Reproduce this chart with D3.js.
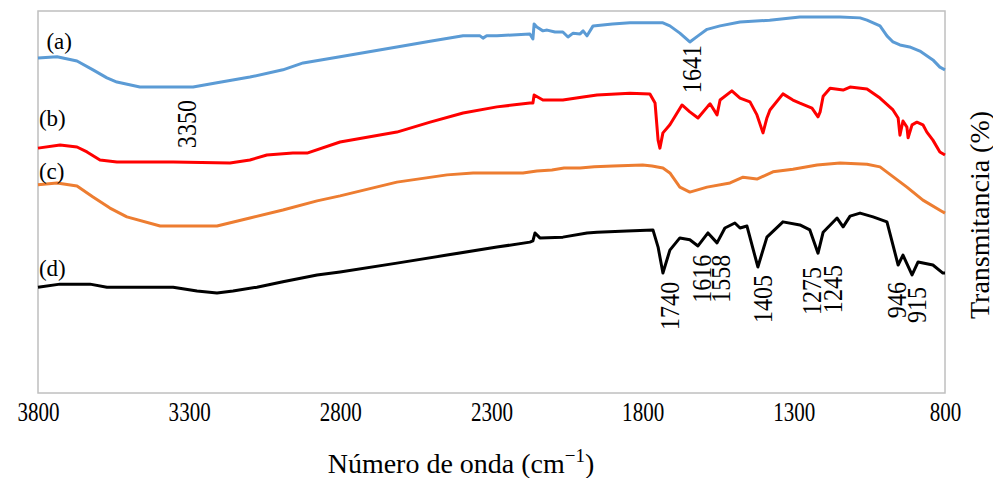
<!DOCTYPE html>
<html>
<head>
<meta charset="utf-8">
<script src="https://cdn.jsdelivr.net/npm/d3@7"></script>
<style>
  body { margin: 0; background: #fff; }
</style>
</head>
<body>
<div id="chart"></div>
<script>
// spectrum (a)
var waveA = [3800,3737,3671,3618,3572,3539,3463,3396,3287,3208,3099,2990,2923,2801,2613,2503,2394,2338,2328,2316,2282,2173,2163,2159,2150,2130,2116,2090,2064,2047,2030,2007,1997,1984,1964,1900,1842,1776,1733,1710,1677,1644,1617,1587,1544,1478,1380,1280,1147,1081,1058,1015,992,972,949,917,883,840,817,800];
var transA = [87.7,88.0,86.9,84.6,82.5,81.4,80.1,80.1,80.1,81.2,82.7,84.6,86.4,88.0,90.6,92.1,93.5,93.5,92.9,93.5,93.5,94.0,92.7,96.6,95.8,94.8,95.0,94.5,94.5,93.2,94.2,94.0,94.8,93.5,96.1,96.6,96.9,96.9,96.9,96.1,94.2,91.9,93.5,95.2,96.1,97.1,97.6,98.4,98.4,98.2,97.6,96.1,93.5,91.9,91.1,90.6,89.5,87.2,85.3,84.6];

// spectrum (b)
var waveB = [3800,3727,3671,3638,3595,3539,3453,3353,3165,3099,3043,2957,2910,2801,2613,2503,2394,2282,2173,2163,2159,2130,2064,1997,1951,1842,1776,1759,1749,1743,1733,1710,1670,1644,1617,1584,1577,1554,1544,1505,1478,1445,1422,1402,1389,1379,1336,1303,1280,1240,1220,1213,1203,1180,1137,1114,1058,1015,972,955,949,939,926,922,909,893,873,860,840,817,800];
var transB = [64.1,64.9,64.4,63.1,61.0,60.5,60.5,60.5,60.2,61.0,62.3,62.8,62.8,65.7,68.3,70.9,73.3,74.9,75.9,75.9,78.0,76.7,76.7,77.5,78.0,78.5,78.3,75.9,66.2,64.1,68.1,70.2,75.4,73.6,72.0,75.1,75.7,72.8,76.7,79.1,77.2,76.2,72.8,68.1,72.0,74.1,78.3,76.7,75.9,74.6,72.3,73.6,77.7,79.8,79.3,80.1,79.6,77.2,74.1,72.0,67.5,71.2,69.6,66.8,70.2,70.9,70.2,68.3,66.2,63.1,62.3];

// spectrum (c)
var waveC = [3800,3737,3671,3618,3562,3506,3396,3208,3099,2990,2877,2801,2613,2447,2361,2196,2150,2100,2060,2007,1960,1898,1800,1769,1733,1710,1677,1644,1587,1511,1468,1422,1369,1303,1223,1147,1058,1015,926,873,807,800];
var transC = [54.5,55.0,54.2,51.3,48.4,46.1,43.7,43.7,45.8,47.9,50.3,51.6,55.2,57.1,57.6,57.6,58.1,58.4,58.9,58.9,59.2,59.4,59.7,59.4,58.9,57.6,53.9,52.6,53.9,55.0,56.5,56.0,57.9,58.6,59.7,60.2,59.9,59.2,53.9,50.5,47.4,47.1];

// spectrum (d)
var waveD = [3800,3727,3628,3572,3353,3274,3208,3155,3076,2990,2877,2801,2613,2447,2282,2173,2163,2156,2140,2064,1984,1951,1852,1766,1749,1733,1710,1677,1644,1617,1584,1554,1528,1495,1478,1455,1419,1389,1336,1280,1247,1220,1203,1157,1137,1114,1081,1038,992,955,939,909,889,840,807,800];
var transD = [27.7,28.5,28.5,27.7,27.7,26.7,26.2,26.7,27.7,29.1,30.9,31.7,34.0,36.1,38.2,39.5,39.8,41.9,40.6,40.8,41.9,42.1,42.4,42.7,38.2,31.4,37.4,40.6,40.1,38.5,41.9,39.3,43.2,44.5,43.2,43.7,33.0,40.8,44.8,44.0,42.7,36.6,42.1,45.8,43.5,46.3,47.1,46.1,44.8,33.5,36.1,30.9,34.3,33.5,31.4,31.4];

var seriesNames = ["(a)", "(b)", "(c)", "(d)"];
var seriesColors = ["#5b9bd5", "#ff0000", "#ed7d31", "#000000"];
var xTicks = [3800, 3300, 2800, 2300, 1800, 1300, 800];

// peak labels: text, position (wavenumber, transmittance at text start)
var peakText = ["3350", "1641", "1740", "1616", "1558", "1405", "1275", "1245", "946", "915"];
var peakX = [3307, 1637, 1710, 1604, 1541, 1402, 1240, 1170, 959, 893];
var peakY = [64.1, 78.5, 16.5, 23.6, 23.6, 18.3, 20.4, 20.9, 19.6, 18.3];

// series name positions
var nameX = [3772, 3797, 3797, 3797];
var nameY = [90.0, 70.0, 56.0, 30.6];

var FONT = "'Liberation Serif', 'DejaVu Serif', serif";

var W = 993, H = 478;
var plotL = 38, plotR = 945, plotT = 11, plotB = 393;

var svg = d3.select("#chart").append("svg")
  .attr("width", W)
  .attr("height", H)
  .attr("font-family", FONT);

var x = d3.scaleLinear().domain([3800, 800]).range([plotL, plotR]);
var y = d3.scaleLinear().domain([0, 100]).range([plotB, plotT]);

// plot frame
svg.append("rect")
  .attr("x", plotL).attr("y", plotT)
  .attr("width", plotR - plotL).attr("height", plotB - plotT)
  .style("fill", "none")
  .style("stroke", "#bfbfbf")
  .style("stroke-width", 1.5);

var waves = [waveA, waveB, waveC, waveD];
var trans = [transA, transB, transC, transD];

var line = d3.line()
  .x(d => x(d[0]))
  .y(d => y(d[1]));

for (var s = 0; s < 4; s++) {
  var pts = waves[s].map((w, i) => [w, trans[s][i]]);
  svg.append("path")
    .datum(pts)
    .attr("d", line)
    .style("fill", "none")
    .style("stroke", seriesColors[s])
    .style("stroke-width", 3)
    .style("stroke-linejoin", "round");

  svg.append("text")
    .attr("x", x(nameX[s]))
    .attr("y", y(nameY[s]))
    .style("font-family", FONT)
    .style("font-size", "23px")
    .text(seriesNames[s]);
}

// peak labels (vertical, a bit condensed like the original)
peakText.forEach(function (t, i) {
  svg.append("text")
    .attr("transform", "translate(" + x(peakX[i]) + "," + y(peakY[i]) + ") rotate(-90) scale(0.86,1)")
    .attr("dominant-baseline", "central")
    .style("font-family", FONT)
    .style("font-size", "28px")
    .text(t);
});

// x axis tick labels
var xAxis = d3.axisBottom(x).tickValues(xTicks).tickSize(0).tickPadding(0).tickFormat(d3.format("d"));
var gx = svg.append("g")
  .attr("transform", "translate(0," + (plotB + 9) + ")")
  .call(xAxis);
gx.attr("font-family", FONT);
gx.select(".domain").remove();
gx.selectAll("text")
  .style("font-family", FONT)
  .style("font-size", "27px")
  .attr("dy", "0.71em")
  .attr("transform", "scale(0.78,1)");

// axis titles
var xt = svg.append("text")
  .attr("x", 461)
  .attr("y", 473)
  .attr("text-anchor", "middle")
  .style("font-family", FONT)
  .style("font-size", "28px");
xt.append("tspan").text("Número de onda (cm");
xt.append("tspan").attr("dy", -11).style("font-size", "19px").text("\u22121");
xt.append("tspan").attr("dy", 11).text(")");

svg.append("text")
  .attr("transform", "translate(979,215) rotate(-90)")
  .attr("text-anchor", "middle")
  .attr("dominant-baseline", "central")
  .style("font-family", FONT)
  .style("font-size", "28px")
  .text("Transmitancia (%)");
</script>
</body>
</html>
